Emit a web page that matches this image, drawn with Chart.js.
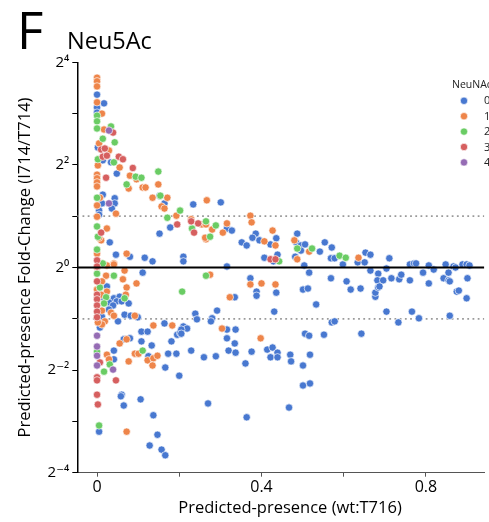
<!DOCTYPE html>
<html>
<head>
<meta charset="utf-8">
<script src="https://cdn.jsdelivr.net/npm/chart.js@4.4.1/dist/chart.umd.min.js"></script>
<style>
  html, body { margin: 0; padding: 0; background: #fff; }
  #wrap { width: 489px; height: 522px; }
</style>
</head>
<body>
<div id="wrap"><canvas id="c" width="489" height="522"></canvas></div>
<script>
// ---- Data (x: predicted presence wt:T716, y: log2 fold-change I714/T714) ----
const categories = ['0', '1', '2', '3', '4'];
const legendTitle = 'NeuNAc';
const xTitle = 'Predicted-presence (wt:T716)';
const yTitle = 'Predicted-presence Fold-Change (I714/T714)';
const xTickValues = [0, 0.2, 0.4, 0.6, 0.8];
const xTickLabels = ['0', '', '0.4', '', '0.8'];
const yTickValues = [-4, -3, -2, -1, 0, 1, 2, 3, 4];
const yTickLabels = ['2⁻⁴', '', '2⁻²', '', '2⁰', '', '2²', '', '2⁴'];
const refSolid = [0];
const refDotted = [-1, 1];
const xRange = [-0.048, 0.942];
const yRange = [-4, 4];

const nac0 = [
 [0,3.37],[0.017,3.20],[0,3.12],[0,3.02],[0.002,2.34],[0.014,2.09],[0.034,2.05],[0.048,1.83],
 [0.014,1.42],[0.012,1.25],[0.043,1.35],[0.043,1.25],[0.036,1.15],[0.005,1.11],[0.005,1.03],
 [0.164,1.25],[0.178,0.78],[0.152,0.66],[0.031,0.49],[0.046,0.25],[0.080,0.21],[0.116,0.19],
 [0.135,0.12],[0.152,1.40],
 [0.111,-0.10],[0.024,-0.37],[0.017,-0.60],[0.041,-0.60],[0.055,-0.57],[0.029,-0.68],[0.048,-0.66],
 [0.060,-0.66],[0.077,-0.70],[0.039,-0.74],[0.029,-0.82],[0.012,-0.96],[0.067,-0.92],[0.082,-0.94],
 [0.099,-0.97],[0.051,-1.05],[0.007,-1.17],[0.108,-1.25],[0.123,-1.25],[0.164,-1.09],[0.195,-1.31],
 [0.202,-1.27],[0.080,-1.38],[0.065,-1.40],[0.108,-1.44],[0.181,-1.44],[0.133,-1.52],[0.041,-1.62],
 [0.173,-1.68],[0.193,-1.68],[0.125,-1.73],[0.166,-1.95],[0.200,-2.11],[0.041,-1.79],[0.060,-2.48],
 [0.058,-2.51],[0.106,-2.57],[0.065,-2.69],[0.137,-2.88],[0.005,-3.20],[0.147,-3.26],[0.128,-3.47],
 [0.157,-3.55],[0.166,-3.66],
 [0.210,0.21],[0.210,0.12],[0.316,0.02],[0.373,-0.21],[0.388,-0.47],[0.388,-0.55],[0.436,-0.49],
 [0.335,-0.58],[0.431,-0.86],[0.292,-0.84],[0.239,-0.90],[0.243,-1.01],[0.280,-0.99],[0.277,-1.05],
 [0.210,-1.15],[0.219,-1.19],[0.205,-1.21],[0.205,-1.29],[0.316,-1.21],[0.337,-1.21],[0.316,-1.38],
 [0.335,-1.48],[0.229,-1.62],[0.260,-1.75],[0.289,-1.73],[0.320,-1.62],[0.337,-1.66],[0.376,-1.64],
 [0.414,-1.60],[0.427,-1.56],[0.439,-1.66],[0.422,-1.75],[0.439,-1.75],[0.470,-1.70],[0.472,-1.83],
 [0.361,-1.87],[0.270,-2.65],[0.364,-2.92],[0.467,-2.73],
 [0.234,1.23],[0.301,1.27],[0.316,0.76],[0.328,0.72],[0.386,0.66],[0.378,0.58],[0.395,0.53],
 [0.422,0.45],[0.436,0.57],[0.352,0.49],[0.364,0.43],[0.407,0.19],[0.439,0.25],[0.429,0.12],
 [0.482,0.21],[0.484,0.49],
 [0.487,0.66],[0.496,0.43],[0.496,0.33],[0.506,0.45],[0.504,0.04],[0.516,-0.10],[0.542,0.31],
 [0.554,0.49],[0.571,0.39],[0.569,0.18],[0.578,0.18],[0.598,0.06],[0.634,0.10],[0.651,0.10],
 [0.653,0.29],[0.665,0.25],[0.711,0.18],[0.665,-0.06],[0.684,-0.12],[0.704,-0.02],[0.682,-0.25],
 [0.696,-0.25],[0.716,-0.21],[0.735,-0.23],[0.740,-0.14],[0.761,-0.25],[0.761,0.06],[0.771,0.08],
 [0.776,0.08],[0.793,-0.10],[0.807,0.04],[0.819,-0.04],[0.807,-0.31],[0.843,-0.21],[0.848,0.06],
 [0.855,-0.10],[0.855,-0.25],[0.858,-0.27],[0.867,0.02],[0.872,0],[0.889,0.06],[0.899,0.06],
 [0.906,0.04],[0.901,-0.21],[0.875,-0.47],[0.880,-0.45],[0.899,-0.60],[0.569,-0.21],[0.607,-0.27],
 [0.617,-0.43],[0.641,-0.41],[0.677,-0.57],[0.677,-0.49],[0.684,-0.39],[0.687,-0.37],[0.501,-0.43],
 [0.513,-0.41],[0.533,-0.72],[0.704,-0.86],[0.733,-1.07],[0.766,-0.86],[0.783,-0.99],[0.858,-0.94],
 [0.571,-1.07],[0.578,-1.05],[0.506,-1.29],[0.516,-1.33],[0.552,-1.31],[0.643,-1.29],[0.518,-1.70],
 [0.501,-1.91],[0.501,-2.30],[0.518,-2.26]
];
const nac1 = [
 [0,3.70],[0,3.63],[0,3.53],[0,3.22],[0.012,3.00],[0.017,2.69],[0.005,2.42],[0.029,2.28],
 [0.055,1.95],[0.002,1.99],[0,1.81],[0,1.74],[0,1.66],[0,1.58],[0.080,1.79],[0.096,1.72],
 [0.149,1.62],[0.077,1.54],[0.111,1.56],[0.118,1.56],[0.135,1.36],[0.171,1.36],[0.007,1.36],
 [0,1.21],[0.046,1.05],[0,0.99],[0.157,1.19],[0.164,1.15],[0.193,1.01],[0.024,0.76],[0.010,0.53],
 [0.005,0.58],[0,0.27],[0.072,0.27],[0.012,0.08],[0.041,0.08],[0,0],
 [0.024,0.04],[0.041,0.06],[0.067,-0.06],[0.022,-0.16],[0.063,-0.23],[0.012,-0.27],[0.072,-0.39],
 [0.096,-0.31],[0,-0.43],[0.024,-0.47],[0.010,-0.53],[0.070,-0.53],[0.012,-0.84],[0.034,-0.88],
 [0.041,-0.94],[0.092,-0.94],[0.019,-1.05],[0.012,-1.11],[0.002,-1.07],[0.137,-1.13],[0.183,-1.13],
 [0.072,-1.40],[0.055,-1.48],[0.024,-1.70],[0.092,-1.68],[0.101,-1.68],[0.123,-1.81],[0.137,-1.77],
 [0.147,-1.72],[0.135,-1.91],[0.077,-1.83],[0.029,-1.79],[0.072,-3.20],
 [0.275,-0.14],[0.373,-0.33],[0.400,-0.31],[0.434,-0.33],[0.323,-0.58],[0.304,-1.19],[0.398,-1.38],
 [0.267,1.31],[0.229,0.94],[0.255,0.84],[0.265,0.84],[0.280,0.74],[0.316,0.86],[0.306,0.68],
 [0.265,0.55],[0.263,0.58],[0.373,1.01],[0.376,0.88],[0.427,0.72],[0.407,0.51],[0.434,0.43],
 [0.480,0.53],[0.487,0.16],[0.516,0.31],[0.636,0.19]
];
const nac2 = [
 [0,2.96],[0,2.85],[0,2.71],[0.034,2.75],[0.014,2.51],[0.043,2.44],[0.002,2.11],[0.041,2.05],
 [0.094,1.77],[0.108,1.75],[0.149,1.87],[0.072,1.62],[0.154,1.40],[0,1.36],[0.171,0.97],
 [0.202,1.11],[0,0.80],[0.002,0.60],[0,0.35],[0.014,0.08],
 [0,-0.12],[0.041,-0.16],[0.007,-0.39],[0.022,-0.58],[0.067,-0.60],[0.017,-0.70],[0,-1.64],
 [0.111,-1.62],[0.031,-1.89],[0.017,-2.03],[0.005,-3.08],
 [0.265,-0.16],[0.207,-0.47],[0.231,0.76],[0.265,0.90],[0.289,0.82],[0.275,0.60],[0.487,0.37],
 [0.443,0.12],[0.523,0.37],[0.590,0.23],[0.605,0.19]
];
const nac3 = [
 [0.039,2.63],[0.010,2.30],[0.019,2.32],[0.014,2.16],[0.024,2.18],[0.053,2.16],[0.063,2.11],
 [0.087,1.94],[0.022,1.75],[0.195,0.84],[0.010,0.68],[0,0.14],
 [0,0.02],[0,-0.27],[0,-0.53],[0,-0.62],[0,-0.74],[0,-0.86],[0,-0.97],[0.007,-1.85],
 [0,-2.14],[0,-2.20],[0.046,-2.20],[0,-2.48],[0.002,-2.67],
 [0.229,0.90],[0.236,0.68],[0.246,0.86],[0.422,0.16],[0.434,0.16]
];
const nac4 = [
 [0.029,2.67],[0.029,1.25],[0,-1.33],[0,-1.54],[0,-1.72],[0,-1.91],[0.039,-1.99]
];
const seriesData = [nac0, nac1, nac2, nac3, nac4];
const palette = ['#4878d0', '#ee854a', '#6acc64', '#d65f5f', '#956cb4'];

// ---- Chart ----
Chart.defaults.font.family = '"Open Sans", "DejaVu Sans", sans-serif';
Chart.defaults.color = '#000';

const pointSets = seriesData.map((arr, i) => ({
  label: categories[i],
  data: arr.map(p => ({ x: p[0], y: p[1] })),
  backgroundColor: palette[i],
  borderColor: 'rgba(255,255,255,0.95)',
  borderWidth: 0.7,
  pointRadius: 3.7,
  order: 10 - i
}));

const lineSets = [
  ...refDotted.map(v => ({
    type: 'line', data: [{ x: xRange[0], y: v }, { x: xRange[1], y: v }],
    borderColor: '#9a9a9a', borderWidth: 1.8, borderDash: [1.8, 3.4], pointRadius: 0, order: 20
  })),
  ...refSolid.map(v => ({
    type: 'line', data: [{ x: xRange[0], y: v }, { x: xRange[1], y: v }],
    borderColor: '#000', borderWidth: 2, pointRadius: 0, order: -1
  }))
];

const decorPlugin = {
  id: 'decor',
  afterDraw(chart) {
    const ctx = chart.ctx;
    ctx.save();
    ctx.fillStyle = '#000';
    ctx.textBaseline = 'alphabetic';
    ctx.textAlign = 'left';
    ctx.font = '51px "Open Sans", sans-serif';
    ctx.fillText('F', 17, 49);
    ctx.font = '23.5px "Open Sans", sans-serif';
    ctx.fillText('Neu5Ac', 67, 48.5);
    // x-axis title (centred as in the original, wider figure)
    ctx.font = '16.5px "Open Sans", sans-serif';
    ctx.textAlign = 'center';
    ctx.fillText(xTitle, 290, 513);
    ctx.textAlign = 'left';
    // legend
    ctx.font = '10.5px "Open Sans", sans-serif';
    ctx.fillStyle = '#222';
    ctx.fillText(legendTitle, 452, 87.5);
    categories.forEach((c, i) => {
      const y = 100.8 + i * 15.4;
      ctx.beginPath();
      ctx.arc(464, y, 3.7, 0, Math.PI * 2);
      ctx.fillStyle = palette[i];
      ctx.fill();
      ctx.strokeStyle = 'rgba(255,255,255,0.95)';
      ctx.lineWidth = 0.7;
      ctx.stroke();
      ctx.fillStyle = '#222';
      ctx.textBaseline = 'middle';
      ctx.font = '11px "Open Sans", sans-serif';
      ctx.fillText(c, 484, y + 0.5);
    });
    ctx.restore();
  }
};

new Chart(document.getElementById('c'), {
  type: 'scatter',
  data: { datasets: [...pointSets, ...lineSets] },
  options: {
    responsive: false,
    animation: false,
    layout: { padding: { left: 0, right: 1, top: 62.3, bottom: 0 } },
    plugins: { legend: { display: false }, tooltip: { enabled: false } },
    scales: {
      x: {
        type: 'linear', min: xRange[0], max: xRange[1],
        afterBuildTicks: s => { s.ticks = xTickValues.map(v => ({ value: v })); },
        afterFit: s => { s.height = 49.3; },
        ticks: {
          autoSkip: false, maxRotation: 0, padding: 1,
          font: { size: 16 }, color: '#000',
          callback: (v, i) => xTickLabels[i]
        },
        grid: { drawOnChartArea: false, drawTicks: true, tickLength: 4, color: '#555', lineWidth: 1 },
        border: { display: true, color: '#555', width: 1 },
        title: { display: false }
      },
      y: {
        type: 'linear', min: yRange[0], max: yRange[1],
        afterBuildTicks: s => { s.ticks = yTickValues.map(v => ({ value: v })); },
        afterFit: s => { s.width = 77.3; },
        ticks: {
          autoSkip: false, padding: 3,
          font: { size: 15 }, color: '#000',
          callback: (v, i) => yTickLabels[i]
        },
        grid: { drawOnChartArea: false, drawTicks: true, tickLength: 5, color: '#000', lineWidth: 1 },
        border: { display: true, color: '#000', width: 1.5 },
        title: { display: true, text: yTitle, font: { size: 16.5 }, color: '#000', padding: { top: 15, bottom: 0 } }
      }
    }
  },
  plugins: [decorPlugin]
});
</script>
</body>
</html>
